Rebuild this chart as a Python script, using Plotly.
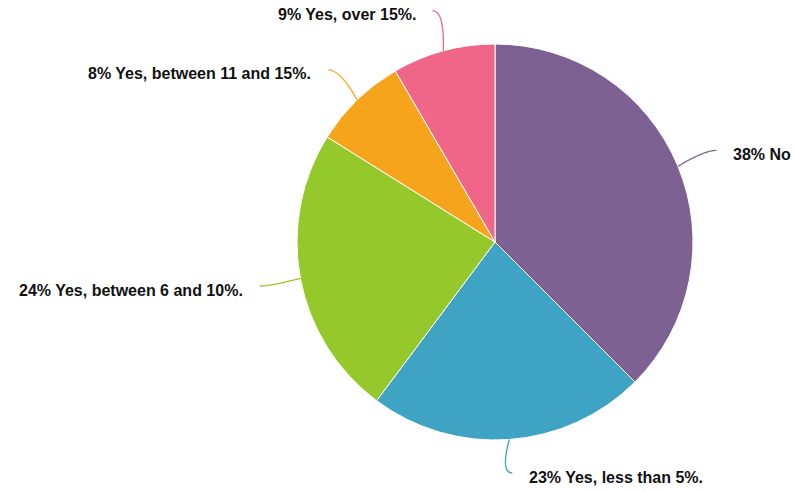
import math
import plotly.graph_objects as go

# ---- data ----
labels = ["No", "Yes, less than 5%.", "Yes, between 6 and 10%.",
          "Yes, between 11 and 15%.", "Yes, over 15%."]
values = [37.5, 22.7, 23.7, 7.7, 8.4]
pct_text = ["38%", "23%", "24%", "8%", "9%"]
colors = ["#7C6192", "#3FA3C3", "#95C82A", "#F5A41C", "#EF6689"]

# ---- layout constants (pixels) ----
W, H = 796, 491
CX, CY, R = 495, 242, 198
LINE_R = 1.21      # leader end radius (fraction of R)
HOOK = 12          # horizontal hook of leader line
GAP = 15           # gap between line end and text
BOTTOM_LIMIT = H - 18

def px(x):
    return x / W

def py(y):
    return 1 - y / H

fig = go.Figure(go.Pie(
    labels=labels, values=values, sort=False, direction="clockwise",
    rotation=0, textinfo="none", hoverinfo="label+percent",
    marker=dict(colors=colors, line=dict(color="white", width=1)),
    domain=dict(x=[px(CX - R), px(CX + R)], y=[py(CY + R), py(CY - R)]),
    showlegend=False,
))

total = sum(values)
cum = 0.0
shapes, annotations = [], []
for lab, v, p, c in zip(labels, values, pct_text, colors):
    mid = (cum + v / 2) / total * 2 * math.pi
    cum += v
    sx, sy = CX + R * math.sin(mid), CY - R * math.cos(mid)
    ex, ey = CX + R * LINE_R * math.sin(mid), CY - R * LINE_R * math.cos(mid)
    ey = min(ey, BOTTOM_LIMIT)
    side = 1 if math.sin(mid) >= 0 else -1
    qx, qy = ex - side * HOOK, ey
    path = (f"M {px(sx)},{py(sy)} Q {px(qx)},{py(qy)} {px(ex)},{py(ey)}")
    shapes.append(dict(type="path", path=path, xref="paper", yref="paper",
                       line=dict(color=c, width=1.3)))
    annotations.append(dict(
        x=px(ex + side * GAP), y=py(ey + 4), xref="paper", yref="paper",
        text=f"{p} {lab}", showarrow=False,
        xanchor="left" if side > 0 else "right", yanchor="middle",
        font=dict(family="Liberation Sans, Arial, sans-serif", size=16,
                  color="#111111"),
    ))

fig.update_layout(
    width=W, height=H, margin=dict(l=0, r=0, t=0, b=0),
    paper_bgcolor="white", plot_bgcolor="white",
    shapes=shapes, annotations=annotations,
    font=dict(family="Liberation Sans, Arial, sans-serif"),
)
fig.update_annotations(font_weight="bold")

fig.write_html("out.html",
               config={"displayModeBar": False},
               post_script="document.body.style.margin='0';"
                           "document.body.style.overflow='hidden';")
